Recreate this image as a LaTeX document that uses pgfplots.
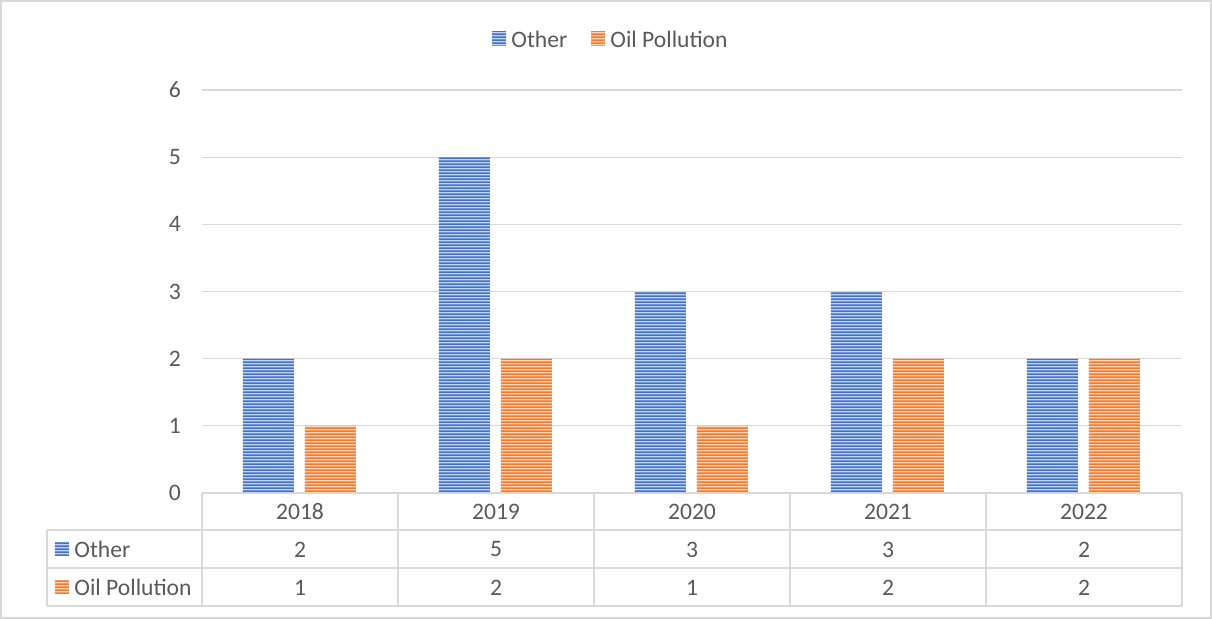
\documentclass[border=0pt]{standalone}
\usepackage{pgfplots}
\pgfplotsset{compat=1.18}
\usepackage{fontspec}
\setmainfont{Carlito}
\usetikzlibrary{patterns}
\pgfdeclarepatternformonly{hstripes}{\pgfpointorigin}{\pgfqpoint{200pt}{1.6pt}}{\pgfqpoint{200pt}{1.6pt}}{%
  \pgfpathrectangle{\pgfqpoint{0pt}{0pt}}{\pgfqpoint{200pt}{0.95pt}}\pgfusepath{fill}}
\definecolor{cblue}{HTML}{4472C4}
\definecolor{corange}{HTML}{ED7D31}
\definecolor{lblue}{HTML}{C5D4EE}
\definecolor{lorange}{HTML}{F9D3B8}
\definecolor{txt}{HTML}{595959}
\definecolor{gridc}{HTML}{D9D9D9}
\tikzset{
 bluebar/.style={fill=lblue, postaction={pattern=hstripes, pattern color=cblue}},
 orangebar/.style={fill=lorange, postaction={pattern=hstripes, pattern color=corange}},
}
\newcommand{\cf}{\fontsize{11.8}{14}\selectfont}
\begin{document}
\begin{tikzpicture}[font=\cf, text=txt]
\begin{axis}[
  at={(0,0)}, anchor=south west,
  scale only axis, width=490pt, height=201.5pt,
  xmin=-0.5, xmax=4.5, ymin=0, ymax=6,
  ytick={0,1,2,3,4,5,6},
  xtick=\empty,
  ymajorgrids, grid style={gridc, line width=0.6pt},
  axis line style={draw=none},
  major tick length=0pt,
  ybar, bar width=25.5pt,
  yticklabel style={font=\cf, text=txt, anchor=east, xshift=-7pt},
  /pgf/number format/assume math mode=true,
  clip=false,
]
\addplot[bluebar, draw=none, bar shift=-15.75pt] coordinates {(0,2)(1,5)(2,3)(3,3)(4,2)};
\addplot[orangebar, draw=none, bar shift=15.25pt] coordinates {(0,1)(1,2)(2,1)(3,2)(4,2)};
\end{axis}
\begin{scope}[x=0.5pt, y=-0.5pt, shift={(-101pt,246.5pt)}]
  % outer border
  \draw[gridc, line width=0.75pt] (1,1) rectangle (1211,618);
  % legend
  \path[bluebar] (492,32) rectangle (506,46);
  \node[anchor=west, inner sep=0pt] at (511,39.5) {Other};
  \path[orangebar] (591,32) rectangle (605,46);
  \node[anchor=west, inner sep=0pt] at (610,39.5) {Oil Pollution};
  % data table
  \foreach \yy in {530,568,606} \draw[gridc, line width=0.6pt] (47,\yy) -- (1182,\yy);
  \draw[gridc, line width=0.6pt] (47,530) -- (47,606);
  \foreach \xx in {202,398,594,790,986,1182} \draw[gridc, line width=0.6pt] (\xx,493) -- (\xx,606);
  \foreach \yr [count=\i from 0] in {2018,2019,2020,2021,2022}
    \node[inner sep=0pt] at (300+196*\i,512) {\yr};
  \foreach \v [count=\i from 0] in {2,5,3,3,2}
    \node[inner sep=0pt] at (300+196*\i,549.5) {\v};
  \foreach \v [count=\i from 0] in {1,2,1,2,2}
    \node[inner sep=0pt] at (300+196*\i,587.5) {\v};
  \path[bluebar] (55,542) rectangle (69,556);
  \node[anchor=west, inner sep=0pt] at (74,549.5) {Other};
  \path[orangebar] (55,580) rectangle (69,594);
  \node[anchor=west, inner sep=0pt] at (74,587.5) {Oil Pollution};
  \pgfresetboundingbox
  \path[use as bounding box] (0,0) rectangle (1212,619);
\end{scope}
\end{tikzpicture}
\end{document}
